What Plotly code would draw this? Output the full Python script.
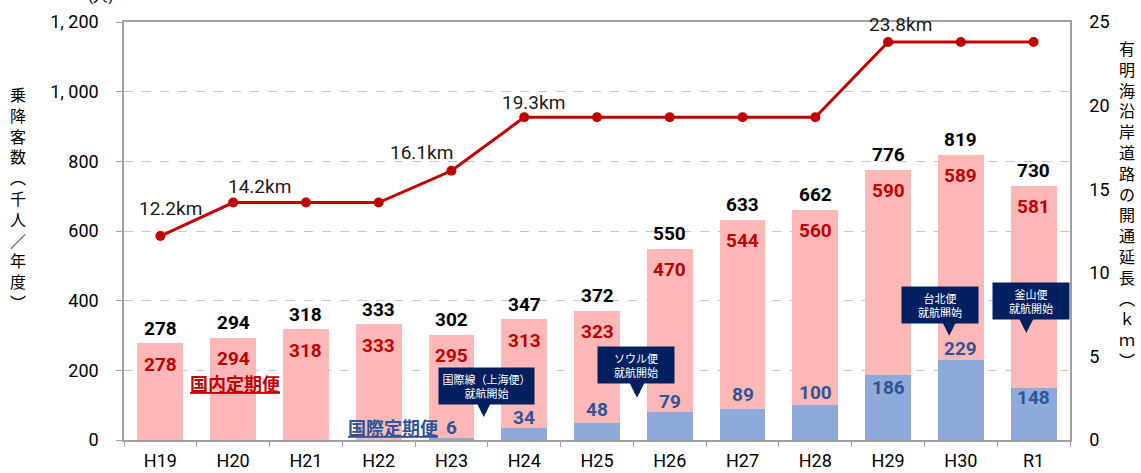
import plotly.graph_objects as go

# ---- data ----
categories = ["H19", "H20", "H21", "H22", "H23", "H24", "H25", "H26", "H27", "H28", "H29", "H30", "R1"]
total_pax = [278, 294, 318, 333, 302, 347, 372, 550, 633, 662, 776, 819, 730]
domestic_pax = [278, 294, 318, 333, 295, 313, 323, 470, 544, 560, 590, 589, 581]
intl_pax = [0, 0, 0, 0, 6, 34, 48, 79, 89, 100, 186, 229, 148]
road_km = [12.2, 14.2, 14.2, 14.2, 16.1, 19.3, 19.3, 19.3, 19.3, 19.3, 23.8, 23.8, 23.8]
left_ticks = [0, 200, 400, 600, 800, 1000, 1200]
left_ticktext = ["0", "200", "400", "600", "800", "1, 000", "1, 200"]
right_ticks = [0, 5, 10, 15, 20, 25]
km_label_idx = [0, 1, 4, 5, 10]
events = ["国際線（上海便）<br>就航開始", "ソウル便<br>就航開始", "台北便<br>就航開始", "釜山便<br>就航開始"]

# ---- styles ----
NUM_FONT = "Roboto, sans-serif"
JP_FONT = "Noto Sans CJK JP, sans-serif"
PINK = "#FFB8B8"
BLUE = "#8EAADB"
RED = "#C00000"
DBLUE = "#2F5597"
NAVY = "#002060"
GRID = "#C8C8C8"
AXIS = "#A0A0A0"

km_shift = {0: (10, 28), 1: (26, 16), 4: (-30, 18), 5: (9, 15), 10: (12, 18)}
intl_shift = [0, 0, 0, 0, 10, 11, 14, 11, 15, 13, -12, 12, -9]
event_box = [(4.48, 155, 95), (6.54, 214, 76), (10.72, 389, 76), (11.97, 398, 76)]
event_arrow = [(4.445, 66), (6.55, 121), (10.84, 299), (11.90, 307)]

fig = go.Figure()
fig.add_trace(go.Bar(x=categories, y=intl_pax, marker=dict(color=BLUE, line=dict(width=0)),
                     width=0.63, hoverinfo="skip", showlegend=False))
fig.add_trace(go.Bar(x=categories, y=domestic_pax, marker=dict(color=PINK, line=dict(width=0)),
                     width=0.63, hoverinfo="skip", showlegend=False))
fig.add_trace(go.Scatter(x=categories, y=road_km, yaxis="y2", mode="lines+markers",
                         line=dict(color=RED, width=3), marker=dict(color=RED, size=10),
                         showlegend=False, hoverinfo="skip"))

ann = []
for i, c in enumerate(categories):
    ann.append(dict(x=c, y=total_pax[i], text=f"<b>{total_pax[i]}</b>", showarrow=False,
                    yanchor="middle", yshift=15, font=dict(family=NUM_FONT, size=19, color="black")))
    ann.append(dict(x=c, y=total_pax[i], text=f"<b>{domestic_pax[i]}</b>", showarrow=False,
                    yanchor="middle", yshift=-21, font=dict(family=NUM_FONT, size=19, color=RED)))
    if intl_pax[i] > 0:
        ann.append(dict(x=c, y=intl_pax[i], text=f"<b>{intl_pax[i]}</b>", showarrow=False,
                        yanchor="middle", yshift=intl_shift[i],
                        font=dict(family=NUM_FONT, size=19, color=DBLUE)))
for i in km_label_idx:
    xs, ys = km_shift[i]
    ann.append(dict(x=categories[i], y=road_km[i], yref="y2", text=f"{road_km[i]}km", showarrow=False,
                    yanchor="middle", xshift=xs, yshift=ys,
                    font=dict(family=NUM_FONT, size=19, color="#1a1a1a")))
for t, (bx, by, bw), (axp, ayp) in zip(events, event_box, event_arrow):
    ann.append(dict(x=bx, y=by, text=t, showarrow=False, bgcolor=NAVY, width=bw, height=36,
                    borderpad=0, font=dict(family=JP_FONT, size=11, color="white")))
    ann.append(dict(x=axp, y=ayp, text="", showarrow=True, ax=0, ay=-14, arrowhead=2,
                    arrowsize=0.75, arrowwidth=5, arrowcolor=NAVY))

ann.append(dict(x=1.03, y=164, text="<b><u>国内定期便</u></b>", showarrow=False,
                font=dict(family=JP_FONT, size=18, color=RED)))
ann.append(dict(x=3.19, y=37, text="<b><u>国際定期便</u></b>", showarrow=False,
                font=dict(family=JP_FONT, size=18, color=DBLUE)))

ann.append(dict(xref="paper", yref="paper", x=-0.112, xanchor="center", y=0.58,
                text="<br>".join("乗降客数︵千人／年度︶"),
                showarrow=False, font=dict(family=JP_FONT, size=16, color="black")))
ann.append(dict(xref="paper", yref="paper", x=1.060, xanchor="center", y=0.565,
                text="<br>".join("有明海沿岸道路の開通延長︵ｋｍ︶"),
                showarrow=False, font=dict(family=JP_FONT, size=16, color="black")))
ann.append(dict(xref="paper", yref="paper", x=-0.025, xanchor="center", y=1.062, yanchor="middle",
                text="(人)", showarrow=False, font=dict(family=NUM_FONT, size=15, color="black")))

fig.update_layout(
    width=1141, height=473, barmode="stack", bargap=0.37,
    margin=dict(l=124, r=71, t=22, b=33, autoexpand=False),
    plot_bgcolor="white", paper_bgcolor="white",
    annotations=ann,
    xaxis=dict(type="category", tickson="boundaries", ticks="outside", ticklen=5, tickcolor=AXIS,
               showline=True, linecolor=AXIS, linewidth=1.5, mirror=True, showgrid=False,
               automargin=False, ticklabelstandoff=4,
               tickfont=dict(family=NUM_FONT, size=18, color="black"), range=[-0.5, 12.5]),
    yaxis=dict(range=[0, 1200], tickvals=left_ticks, ticktext=left_ticktext, ticks="outside",
               ticklen=6, tickcolor=AXIS, showline=True, linecolor=AXIS, linewidth=1.5,
               showgrid=True, gridcolor=GRID, griddash="dash", gridwidth=1, zeroline=False,
               automargin=False,
               ticklabelstandoff=14, tickfont=dict(family=NUM_FONT, size=18, color="black")),
    yaxis2=dict(range=[0, 25], tickvals=right_ticks, overlaying="y", side="right", showgrid=False,
                showline=True, linecolor=AXIS, linewidth=1.5, ticks="", zeroline=False,
                automargin=False,
                ticklabelstandoff=14, tickfont=dict(family=NUM_FONT, size=18, color="black")),
)

fig.write_html("out.html", config={"displayModeBar": False},
               post_script="document.body.style.margin='0px';document.body.style.overflow='hidden';")
